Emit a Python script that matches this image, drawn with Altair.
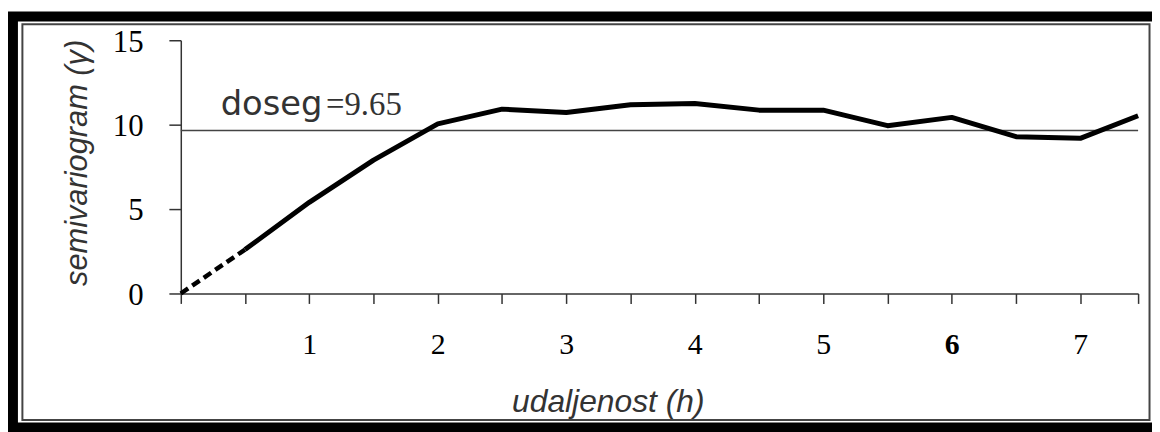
import altair as alt
import pandas as pd

# ---- data ----
distance = [0.0, 0.5, 1.0, 1.5, 2.0, 2.5, 3.0, 3.5, 4.0, 4.5, 5.0, 5.5, 6.0, 6.5, 7.0, 7.45]
semivariance = [0.0, 2.6, 5.4, 7.9, 10.05, 10.92, 10.72, 11.18, 11.25, 10.86, 10.86, 9.94, 10.43, 9.29, 9.19, 10.53]
sill = 9.65
x_ticks = [0.0, 0.5, 1.0, 1.5, 2.0, 2.5, 3.0, 3.5, 4.0, 4.5, 5.0, 5.5, 6.0, 6.5, 7.0, 7.45]
y_ticks = [0, 5, 10, 15]
x_domain = [0, 7.45]
y_domain = [0, 15]
x_title = "udaljenost (h)"
y_title = "semivariogram (γ)"
note_word = "doseg"
note_value = "=9.65"
note_pos_word = [0.31, 10.59]
note_pos_value = [1.13, 10.59]

df = pd.DataFrame({"h": distance, "g": semivariance})
dashed_df = df[df["h"] <= 0.5]
solid_df = df[df["h"] >= 0.5]
one = pd.DataFrame({"k": [0]})

x_scale = alt.Scale(domain=x_domain, nice=False, zero=False)
y_scale = alt.Scale(domain=y_domain, nice=False, zero=False)

x_axis = alt.Axis(
    values=x_ticks, title=x_title,
    labelExpr="datum.value > 0 && datum.value % 1 == 0 ? '' + datum.value : ''",
    labelFont="Liberation Serif", labelFontSize=30, labelColor="black",
    labelFontWeight=alt.condition("datum.value == 6", alt.value("bold"), alt.value("normal")),
    labelBaseline="middle", labelPadding=41, labelFlush=False, labelOverlap=False,
    tickSize=10, tickColor="#333", tickWidth=1.5,
    domainColor="#333", domainWidth=1.5, grid=False,
    titleFont="Liberation Sans", titleFontStyle="italic", titleFontWeight="normal",
    titleFontSize=32, titleColor="#333", titleX=430, titleY=109,
    titleBaseline="middle", titleAlign="center",
)
y_axis = alt.Axis(
    values=y_ticks, title=y_title,
    labelFont="Liberation Serif", labelFontSize=31, labelColor="black",
    labelBaseline="middle", labelOffset=2, labelPadding=26,
    tickSize=12, tickColor="#333", tickWidth=1.5,
    domainColor="#333", domainWidth=1.5, grid=False,
    titleFont="Liberation Sans", titleFontStyle="italic", titleFontWeight="normal",
    titleFontSize=31, titleColor="#333", titleX=-104, titleY=123,
    titleBaseline="middle", titleAlign="center", titleAngle=270,
)

x_enc = alt.X("h:Q", scale=x_scale, axis=x_axis)
y_enc = alt.Y("g:Q", scale=y_scale, axis=y_axis)

outer_frame = alt.Chart(one).mark_rect(
    fill="white", fillOpacity=0, stroke="black", strokeWidth=10
).encode(x=alt.value(-169), x2=alt.value(983), y=alt.value(-24), y2=alt.value(390))

inner_frame = alt.Chart(one).mark_rect(
    fill="white", fillOpacity=0, stroke="#444", strokeWidth=2
).encode(x=alt.value(-159.5), x2=alt.value(975.5), y=alt.value(-16), y2=alt.value(382.5))

sill_rule = alt.Chart(one).mark_rule(color="#444", strokeWidth=1.5).encode(
    y=alt.datum(sill)
)

dashed_line = alt.Chart(dashed_df).mark_line(
    color="black", strokeWidth=4.5, strokeDash=[9, 5]
).encode(x=x_enc, y=y_enc)

solid_line = alt.Chart(solid_df).mark_line(
    color="black", strokeWidth=5, strokeJoin="round"
).encode(x=x_enc, y=y_enc)

word_text = alt.Chart(one).mark_text(
    align="left", baseline="alphabetic", font="DejaVu Sans", fontSize=34, color="#333"
).encode(x=alt.datum(note_pos_word[0]), y=alt.datum(note_pos_word[1]), text=alt.value(note_word))

value_text = alt.Chart(one).mark_text(
    align="left", baseline="alphabetic", font="Liberation Serif", fontSize=33, color="#333"
).encode(x=alt.datum(note_pos_value[0]), y=alt.datum(note_pos_value[1]), text=alt.value(note_value))

chart = alt.layer(
    outer_frame, inner_frame, sill_rule, dashed_line, solid_line, word_text, value_text
).properties(
    width=964, height=255,
    autosize=alt.AutoSizeParams(type="none"),
    padding={"left": 174, "top": 31, "right": 14, "bottom": 138},
    background="white",
).configure_view(stroke=None)

chart.save("out.html", embed_options={"renderer": "svg", "actions": False})
